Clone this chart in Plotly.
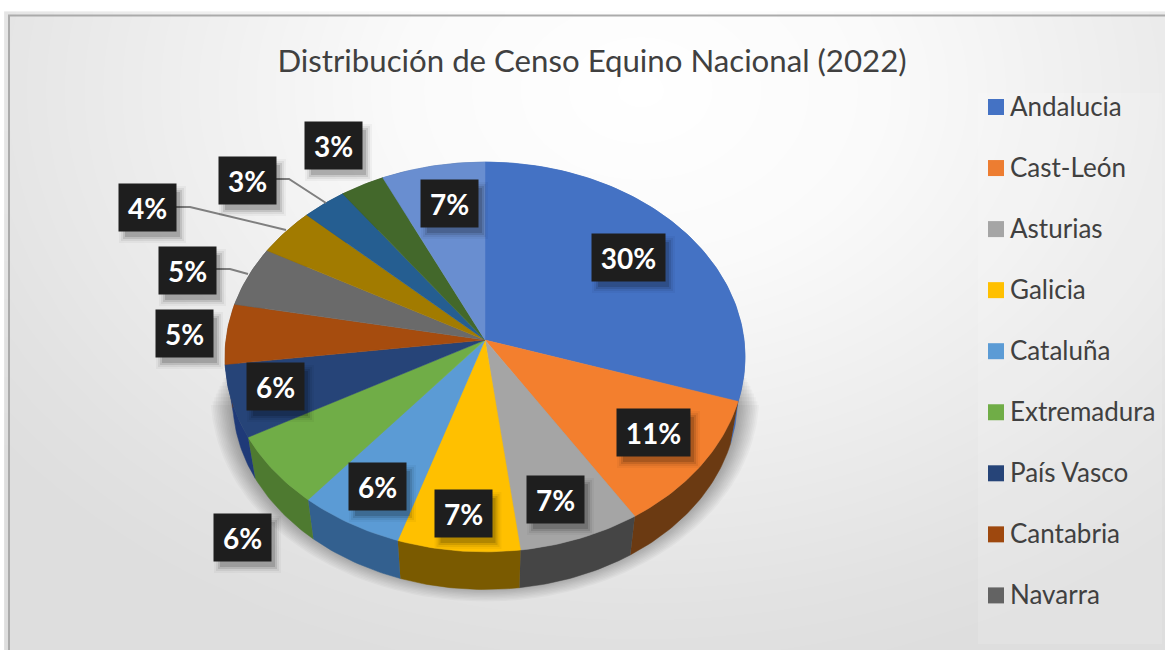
import numpy as np
import plotly.graph_objects as go

# ---- data ----
legend_names = ["Andalucia", "Cast-León", "Asturias", "Galicia", "Cataluña",
                "Extremadura", "País Vasco", "Cantabria", "Navarra"]
values = [30, 11, 7, 7, 6, 6, 6, 5, 5, 4, 3, 3, 7]
top_colors = ["#4472C4", "#F37F2E", "#A5A5A5", "#FFC000", "#5B9BD5", "#70AD47",
              "#264478", "#A64C0E", "#6A6A6A", "#A27B00", "#255E91", "#43682B", "#698ED0"]
side_colors = ["#3A66B5", "#6B3A12", "#454545", "#7A5A00", "#33608F", "#4E7A30",
               "#1F3A78", "#7A370B", "#4A4A4A", "#705400", "#1B4568", "#304A1F", "#4A6AA0"]
legend_colors = ["#4472C4", "#ED7D31", "#A5A5A5", "#FFC000", "#5B9BD5", "#70AD47",
                 "#264478", "#9E480E", "#636363"]
title_text = "Distribución de Censo Equino Nacional (2022)"

# ---- layout constants ----
W, H = 1165, 650
CX, CY = 485, 340           # apex of the pie on the page
R, A, P = 259, 193.4, 0.087  # projected radii and perspective strength
DEPTH, BOTTOM_SCALE = 44, 0.97
label_cx = [628.5, 653.5, 555.5, 463, 377.5, 242.5, 275.5, 184.5, 187.5, 147.5, 247.5, 333.5, 449.5]
label_cy = [257.5, 432.5, 499.5, 513.5, 486.5, 537.5, 386.5, 333.5, 270.5, 207.5, 180.5, 145.5, 203.5]
leaders = [([276, 289, 326], [179, 179, 203]),
           ([176, 190, 286], [207, 207, 230]),
           ([216, 230, 248], [269, 269, 274])]


def project(theta_deg, scale=1.0, dy=0.0):
    t = np.radians(theta_deg)
    u, v = np.sin(t), np.cos(t)
    d = 1 + P * v
    return CX + scale * R * u / d, CY - scale * A * v / d + dy


fig = go.Figure()

# background gradient
gx = np.linspace(9, W, 120)
gy = np.linspace(16, H, 70)
XX, YY = np.meshgrid(gx, gy)
dist = np.sqrt(((XX - 640) / 700) ** 2 + ((YY - 90) / 520) ** 2)
fig.add_trace(go.Heatmap(x=gx, y=gy, z=np.clip(dist, 0, 1.15), zmin=0, zmax=1.15, zsmooth="best",
                         colorscale=[[0, "#ffffff"], [0.3, "#fafafa"], [0.87, "#e2e2e2"], [1, "#dedede"]],
                         showscale=False, hoverinfo="skip"))

# legend panel
fig.add_trace(go.Scatter(x=[978, 1162, 1162, 978, 978], y=[93, 93, 644, 644, 93], mode="lines", fill="toself",
                         fillcolor="rgba(255,255,255,0.14)", line=dict(width=0),
                         hoverinfo="skip", showlegend=False))

# soft shadow under the pie
th = np.arange(0, 361, 2)
for s in np.linspace(1.055, 0.97, 14):
    sx, sy = project(th, s, 38)
    top_clip = 355 + (s - 0.97) / 0.085 * 50
    fig.add_trace(go.Scatter(x=sx, y=np.clip(sy, top_clip, 603), mode="lines", fill="toself",
                             fillcolor="rgba(0,0,0,0.028)", line=dict(width=0),
                             hoverinfo="skip", showlegend=False))

edges = np.concatenate([[0], np.cumsum(values)]) * 360 / sum(values)

# walls, then top faces
for i in range(len(values)):
    th = np.linspace(edges[i], edges[i + 1], max(int(edges[i + 1] - edges[i]) + 2, 3))
    x1, y1 = project(th)
    x2, y2 = project(th, BOTTOM_SCALE, DEPTH)
    fig.add_trace(go.Scatter(x=np.concatenate([x1, x2[::-1]]), y=np.concatenate([y1, y2[::-1]]),
                             mode="lines", fill="toself", fillcolor=side_colors[i],
                             line=dict(color=side_colors[i], width=0.5),
                             hoverinfo="skip", showlegend=False))
for i in range(len(values)):
    th = np.linspace(edges[i], edges[i + 1], max(int(edges[i + 1] - edges[i]) + 2, 3))
    x1, y1 = project(th)
    name = legend_names[i] if i < len(legend_names) else f"Otras {i - len(legend_names) + 1}"
    fig.add_trace(go.Scatter(x=np.concatenate([[CX], x1, [CX]]), y=np.concatenate([[CY], y1, [CY]]),
                             mode="lines", fill="toself", fillcolor=top_colors[i],
                             line=dict(color=top_colors[i], width=0.5),
                             name=name, text=f"{values[i]}%", hoverinfo="name+text", showlegend=False))

# leader lines
for lx, ly in leaders:
    fig.add_trace(go.Scatter(x=lx, y=ly, mode="lines", line=dict(color="#7F7F7F", width=2),
                             hoverinfo="skip", showlegend=False))

shapes = [
    dict(type="rect", x0=9, x1=W + 20, y0=15.5, y1=H + 20,
         fillcolor="rgba(0,0,0,0)", line=dict(color="#ABABAB", width=2)),
]
annotations = []

# data labels with shadow
for v, cx, cy in zip(values, label_cx, label_cy):
    w = 73 if v >= 10 else 57
    for grow, alpha in ((5, 0.035), (3, 0.06), (1, 0.10), (-1, 0.14)):
        shapes.append(dict(type="rect", x0=cx - w / 2 + 5 - grow, x1=cx + w / 2 + 5 + grow,
                           y0=cy - 23.5 + 7 - grow, y1=cy + 23.5 + 7 + grow,
                           fillcolor=f"rgba(0,0,0,{alpha})", line=dict(width=0)))
    annotations.append(dict(x=cx, y=cy, xref="x", yref="y", text=f"<b>{v}%</b>", showarrow=False,
                            width=w, height=47, borderpad=0, bgcolor="#1E1E1E", align="center",
                            valign="middle", font=dict(family="Lato", size=28, color="#FFFFFF")))

# legend
legend_y = 106 + 61.05 * np.arange(len(legend_names))
fig.add_trace(go.Scatter(x=[996] * len(legend_names), y=legend_y + 1, mode="markers",
                         marker=dict(symbol="square", size=16, color=legend_colors, line=dict(width=0)),
                         hoverinfo="skip", showlegend=False))
for name, y in zip(legend_names, legend_y):
    annotations.append(dict(x=1008, y=y, xref="x", yref="y", text=name, showarrow=False, xanchor="left",
                            yanchor="middle", font=dict(family="Lato", size=26, color="#404040")))

fig.update_layout(
    width=W, height=H, margin=dict(l=0, r=0, t=0, b=0), paper_bgcolor="#FFFFFF", plot_bgcolor="rgba(0,0,0,0)",
    title=dict(text=title_text, x=592 / W, y=1 - 61 / H, xanchor="center", yanchor="middle",
               xref="paper", yref="paper", font=dict(family="Lato", size=31.2, color="#404040")),
    xaxis=dict(range=[0, W], visible=False, fixedrange=True),
    yaxis=dict(range=[H, 0], visible=False, fixedrange=True),
    shapes=shapes, annotations=annotations, showlegend=False,
)
fig.write_html("out.html", config={"displayModeBar": False},
               post_script="document.body.style.margin='0';document.body.style.overflow='hidden';")
